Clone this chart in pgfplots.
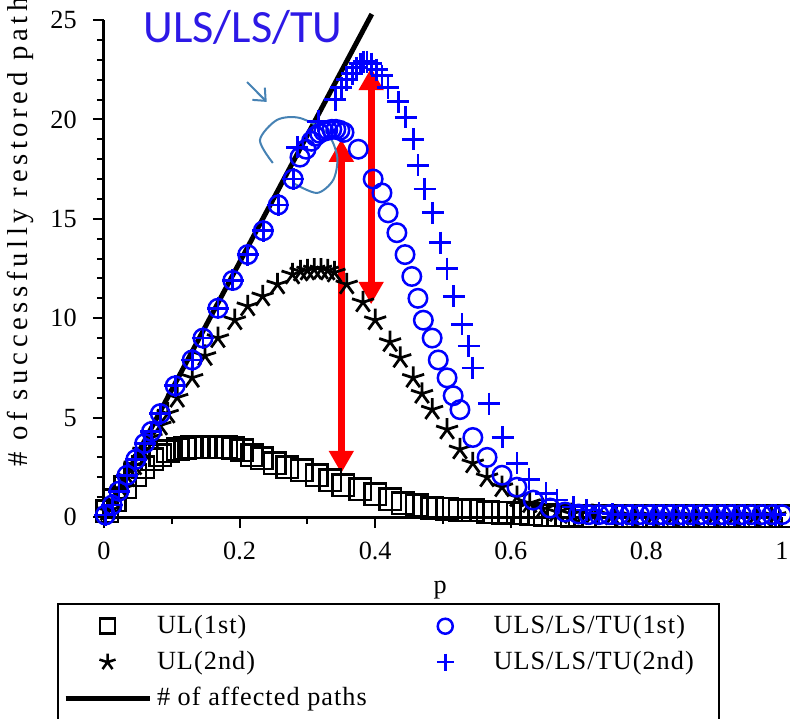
\documentclass[border=0pt]{standalone}
\usepackage{fontspec}
\setmainfont{Liberation Serif}
\newfontfamily\carlito{Carlito}
\usepackage{pgfplots}
\pgfplotsset{compat=1.18}
\usetikzlibrary{arrows.meta}
\definecolor{annblue}{RGB}{45,25,230}
\definecolor{loopblue}{RGB}{70,130,180}
\pgfplotsset{
  legmark/.style={legend image code/.code={\path (0pt,-3pt) (33.6pt,3pt); \draw[##1] plot coordinates {(16.8pt,0pt)};}},
  legline/.style={legend image code/.code={\draw[##1] (0pt,0pt) -- (33.6pt,0pt);}},
}
\newcommand{\lcola}[1]{\makebox[96pt][l]{#1}}
\newcommand{\lcolb}[1]{\makebox[86pt][l]{#1}}
\begin{document}
\begin{tikzpicture}
\useasboundingbox (-41.6pt,-80.4pt) rectangle (274.4pt,206.8pt);
\begin{axis}[
  scale only axis, width=271.2pt, height=198.8pt,
  xmin=0, xmax=1, ymin=0, ymax=25,
  axis x line*=bottom, axis y line*=left,
  axis line style={line width=1.2pt},
  clip=false,
  xtick={0,0.2,0.4,0.6,0.8,1},
  xticklabels={0,0.2,0.4,0.6,0.8,1},
  minor xtick={0.1,0.3,0.5,0.7,0.9},
  ytick={0,5,10,15,20,25},
  minor y tick num=4,
  tick align=outside,
  major tick length=4.4pt, minor tick length=2.8pt,
  tick style={line width=0.8pt, black},
  /pgf/number format/assume math mode=true,
  tick label style={font=\fontsize{10.5}{12}\selectfont},
  xticklabel style={yshift=-2pt},
  yticklabel style={xshift=-3pt},
  xlabel={p},
  xlabel style={at={(axis description cs:0.496,-0.147)}, anchor=center, font=\fontsize{10.5}{12}\selectfont},
  legend columns=2,
  legend cell align=left,
  legend style={at={(axis description cs:-0.0693,-0.1725)}, anchor=north west,
    draw=black, line width=0.8pt, inner xsep=2pt, inner ysep=2.6pt, row sep=1.6pt, column sep=0pt,
    font=\fontsize{10.5}{12}\selectfont\addfontfeatures{LetterSpace=4}},
]
% UL(1st)
\addplot[only marks, mark=square, mark size=4.3pt, line width=1pt, black, forget plot] coordinates {
(0.005,0.3) (0.016,0.85) (0.031,1.5) (0.046,2.1) (0.058,2.5) (0.071,2.9) (0.083,3.1) (0.094,3.3)
(0.109,3.4) (0.12,3.45) (0.13,3.5) (0.14,3.5) (0.15,3.5) (0.16,3.5) (0.17,3.5) (0.18,3.5)
(0.19,3.45) (0.204,3.35) (0.218,3.1) (0.233,2.95) (0.252,2.7) (0.27,2.5) (0.292,2.35) (0.314,2.1)
(0.334,1.85) (0.353,1.6) (0.378,1.4) (0.4,1.15) (0.422,0.9) (0.441,0.7) (0.461,0.6) (0.484,0.45)
(0.506,0.42) (0.525,0.35) (0.544,0.33) (0.566,0.25) (0.588,0.22) (0.61,0.18) (0.63,0.13) (0.65,0.1)
(0.67,0.08) (0.69,0.06) (0.71,0.05) (0.74,0.05) (0.77,0.05) (0.8,0.05) (0.83,0.05) (0.86,0.05)
(0.89,0.05) (0.92,0.05) (0.95,0.05) (0.98,0.05) (1.0,0.05)
};
% UL(2nd)
\addplot[only marks, mark=star, mark size=4.6pt, line width=1.1pt, black, forget plot] coordinates {
(0.005,0.3) (0.015,0.8) (0.025,1.4) (0.035,2.0) (0.045,2.6) (0.058,3.3) (0.07,4.0) (0.083,4.6)
(0.094,5.2) (0.108,6.0) (0.13,7.0) (0.149,8.1) (0.168,9.0) (0.193,9.9) (0.212,10.6) (0.234,11.1)
(0.256,11.7) (0.278,12.2) (0.29,12.35) (0.30,12.4) (0.31,12.45) (0.32,12.45) (0.33,12.4) (0.34,12.3)
(0.358,11.7) (0.382,10.8) (0.40,9.9) (0.422,8.8) (0.437,8.0) (0.456,7.0) (0.469,6.2) (0.484,5.4)
(0.506,4.4) (0.525,3.4) (0.544,2.7) (0.565,2.0) (0.587,1.5) (0.609,1.0) (0.628,0.7) (0.647,0.4)
(0.668,0.25) (0.69,0.15) (0.72,0.1) (0.75,0.08) (0.78,0.06) (0.81,0.05) (0.84,0.05) (0.87,0.05)
(0.9,0.05) (0.93,0.05) (0.96,0.05) (0.99,0.05)
};
% ULS/LS/TU(1st)
\addplot[only marks, mark=o, mark size=3.7pt, line width=1pt, blue, forget plot] coordinates {
(0.002,0.1) (0.012,0.6) (0.022,1.3) (0.034,2.1) (0.047,2.9) (0.06,3.7) (0.07,4.3) (0.083,5.2)
(0.105,6.6) (0.13,7.9) (0.146,9.0) (0.168,10.5) (0.19,11.9) (0.212,13.2) (0.235,14.4) (0.257,15.7)
(0.279,17.0) (0.289,18.1) (0.298,18.5) (0.306,18.9) (0.312,19.15) (0.318,19.3) (0.324,19.4) (0.33,19.45)
(0.336,19.5) (0.342,19.5) (0.348,19.45) (0.354,19.35) (0.375,18.5) (0.397,17.0) (0.41,16.3) (0.419,15.3)
(0.432,14.3) (0.444,13.2) (0.454,12.1) (0.463,11.0) (0.471,9.9) (0.484,9.0) (0.493,7.9) (0.506,7.0)
(0.515,6.1) (0.525,5.4) (0.544,4.0) (0.565,3.0) (0.587,2.1) (0.609,1.5) (0.633,0.85) (0.658,0.45)
(0.68,0.25) (0.70,0.15) (0.715,0.12) (0.73,0.12) (0.745,0.12) (0.76,0.12) (0.775,0.12) (0.79,0.12)
(0.805,0.12) (0.82,0.12) (0.835,0.12) (0.85,0.12) (0.865,0.12) (0.88,0.12) (0.895,0.12) (0.91,0.12)
(0.925,0.12) (0.94,0.12) (0.955,0.12) (0.97,0.12) (0.985,0.12) (1.0,0.12)
};
% ULS/LS/TU(2nd)
\addplot[only marks, mark=+, mark size=4.4pt, line width=1.1pt, blue, forget plot] coordinates {
(0.002,0.1) (0.012,0.6) (0.022,1.3) (0.034,2.1) (0.047,2.9) (0.06,3.7) (0.07,4.3) (0.083,5.2)
(0.105,6.6) (0.13,7.9) (0.146,9.0) (0.168,10.5) (0.19,11.9) (0.212,13.2) (0.235,14.4) (0.257,15.7)
(0.279,17.0) (0.285,18.6) (0.316,19.9) (0.341,21.0) (0.35,21.6) (0.358,22.0) (0.366,22.3) (0.372,22.6)
(0.378,22.8) (0.383,22.9) (0.388,22.9) (0.394,22.8) (0.402,22.5) (0.41,22.2) (0.419,21.6) (0.434,20.9)
(0.445,20.1) (0.456,19.0) (0.463,17.7) (0.473,16.5) (0.485,15.3) (0.496,13.8) (0.506,12.5) (0.516,11.1)
(0.528,9.7) (0.538,8.6) (0.544,7.5) (0.568,5.7) (0.588,4.0) (0.609,2.7) (0.627,1.9) (0.652,1.2)
(0.668,0.85) (0.692,0.5) (0.712,0.35) (0.73,0.2) (0.75,0.15) (0.765,0.12) (0.78,0.12) (0.795,0.12)
(0.81,0.12) (0.825,0.12) (0.84,0.12) (0.855,0.12) (0.87,0.12) (0.885,0.12) (0.9,0.12) (0.915,0.12)
(0.93,0.12) (0.945,0.12) (0.96,0.12) (0.975,0.12) (0.99,0.12)
};
% # of affected paths
\addplot[black, line width=2pt, no marks, forget plot] coordinates {(0,0) (0.395,25.3)};

\addlegendimage{legmark, only marks, mark=square, mark size=3pt, line width=1pt, black}
\addlegendentry{\lcola{UL(1st)}}
\addlegendimage{legmark, only marks, mark=o, mark size=3pt, line width=1pt, blue}
\addlegendentry{\lcolb{ULS/LS/TU(1st)}}
\addlegendimage{legmark, only marks, mark=star, mark size=3.4pt, line width=1pt, black}
\addlegendentry{\lcola{UL(2nd)}}
\addlegendimage{legmark, only marks, mark=+, mark size=3.4pt, line width=1pt, blue}
\addlegendentry{\lcolb{ULS/LS/TU(2nd)}}
\addlegendimage{legline, black, line width=2pt}
\addlegendentry{\lcola{\# of affected paths}}

% red double arrows
\draw[red, line width=2.9pt, {Triangle[width=9.5pt,length=9pt]}-{Triangle[width=9.5pt,length=9pt]}] (axis cs:0.35,2.2) -- (axis cs:0.35,19.0);
\draw[red, line width=2.9pt, {Triangle[width=9.5pt,length=9pt]}-{Triangle[width=9.5pt,length=9pt]}] (axis cs:0.394,10.7) -- (axis cs:0.394,22.6);

% hand-drawn annotation
\draw[loopblue, line width=0.8pt] plot[smooth] coordinates {(0.249,17.81) (0.230,18.96) (0.255,19.97) (0.289,20.07) (0.329,19.32) (0.344,18.11) (0.338,16.95) (0.314,16.30) (0.279,16.80)};
\draw[loopblue, line width=0.8pt, -{Straight Barb[length=4pt,width=7pt]}] (axis cs:0.211,21.88) -- (axis cs:0.240,20.88);
\node[annblue, font=\carlito\fontsize{18.5}{20}\selectfont, anchor=base] at (axis cs:0.205,23.85) {ULS/LS/TU};
\end{axis}
\node[rotate=90, anchor=west, inner sep=0pt, font=\fontsize{11.5}{13}\selectfont\addfontfeatures{LetterSpace=16}] at (-33.6pt,20pt) {\# of successfully restored paths};
\end{tikzpicture}
\end{document}
